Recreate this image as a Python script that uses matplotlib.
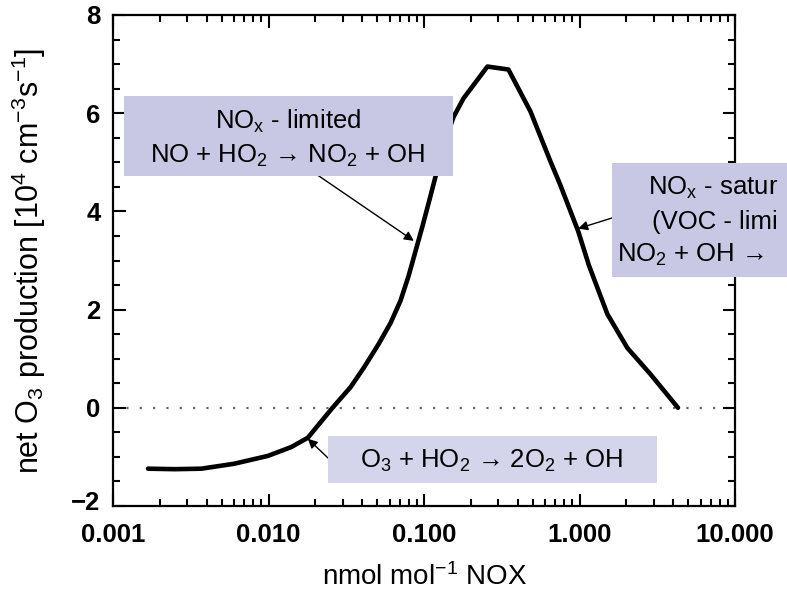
import matplotlib
matplotlib.use("Agg")
import matplotlib.pyplot as plt
from matplotlib.patches import Rectangle
from matplotlib.ticker import FixedLocator, LogLocator, MultipleLocator, NullFormatter
from matplotlib.transforms import ScaledTranslation
import numpy as np

plt.rcParams['font.family'] = ['Liberation Sans', 'DejaVu Sans']
plt.rcParams['mathtext.fontset'] = 'custom'
plt.rcParams['mathtext.rm'] = 'Liberation Sans'
plt.rcParams['mathtext.it'] = 'Liberation Sans'

# data
nox = [0.00168, 0.0025, 0.0037, 0.006, 0.0099, 0.014, 0.0179, 0.0258, 0.0337, 0.0409,
       0.0511, 0.061, 0.0706, 0.0795, 0.0882, 0.0978, 0.110, 0.122, 0.1374, 0.1547,
       0.1793, 0.2557, 0.349, 0.483, 0.65, 0.75, 0.98, 1.15, 1.51, 2.03, 2.85, 4.3]
prod = [-1.24, -1.25, -1.24, -1.14, -0.98, -0.80, -0.61, 0.0, 0.42, 0.81,
        1.30, 1.73, 2.18, 2.68, 3.19, 3.70, 4.31, 4.86, 5.45, 5.92,
        6.30, 6.95, 6.89, 6.04, 5.02, 4.55, 3.6, 2.90, 1.91, 1.22, 0.69, 0.0]

xticks = [0.001, 0.01, 0.1, 1.0, 10.0]
xticklabels = ["0.001", "0.010", "0.100", "1.000", "10.000"]
yticks = [-2, 0, 2, 4, 6, 8]

W, H = 787, 593
fig = plt.figure(figsize=(W / 100, H / 100), dpi=100)
ax = fig.add_axes([113 / W, 1 - 506 / H, (735 - 113) / W, (506 - 15) / H])

ax.plot(nox, prod, color='black', lw=3.3, solid_capstyle='round', solid_joinstyle='round', zorder=3)
ax.axhline(0, color='#666666', lw=1.6, ls=(0, (1, 5)), zorder=1)

ax.set_xscale('log')
ax.set_xlim(0.001, 10)
ax.set_ylim(-2, 8)
ax.xaxis.set_major_locator(FixedLocator(xticks))
ax.set_xticklabels(xticklabels)
ax.xaxis.set_minor_locator(LogLocator(base=10, subs=np.arange(2, 10)))
ax.xaxis.set_minor_formatter(NullFormatter())
ax.set_yticks(yticks)
ax.yaxis.set_minor_locator(MultipleLocator(0.5))

ax.tick_params(which='both', direction='in', top=True, right=True, width=1.5, color='black')
ax.tick_params(which='major', length=9, labelsize=18.5)
ax.tick_params(axis='x', which='major', pad=12)
ax.tick_params(axis='y', which='major', pad=9)
ax.tick_params(which='minor', length=5)
for lab in ax.get_xticklabels() + ax.get_yticklabels():
    lab.set_fontweight('bold')
lab0 = ax.get_yticklabels()[0]
lab0.set_transform(lab0.get_transform() + ScaledTranslation(0, 6 / 100, fig.dpi_scale_trans))
for s in ax.spines.values():
    s.set_linewidth(1.6)

ax.set_xlabel(r"nmol mol$^{-1}$ NOX", fontsize=20, labelpad=12)
ax.set_ylabel(r"net O$_3$ production [10$^4$ cm$^{-3}$s$^{-1}$]", fontsize=22, labelpad=17)


def fpx(x, y):
    return x / W, 1 - y / H


def box(x0, y0, x1, y1, color):
    fig.patches.append(Rectangle(fpx(x0, y1), (x1 - x0) / W, (y1 - y0) / H,
                                 transform=fig.transFigure, facecolor=color,
                                 edgecolor='none', zorder=4))


box(124, 96, 453, 176, '#c8c8e5')
box(612, 163, 800, 277, '#c8c8e5')
box(328, 436, 657, 483, '#d4d4eb')

fs = 18.5
fig.text(*fpx(288, 121), r"NO$_\mathregular{x}$ - limited", ha='center', va='center', fontsize=fs, zorder=5)
fig.text(*fpx(288, 156), r"NO + HO$_2$ → NO$_2$ + OH", ha='center', va='center', fontsize=fs, zorder=5)
fig.text(*fpx(492, 461), r"O$_3$ + HO$_2$ → 2O$_2$ + OH", ha='center', va='center', fontsize=fs, zorder=5)
fig.text(*fpx(648, 188), r"NO$_\mathregular{x}$ - satur", ha='left', va='center', fontsize=fs, zorder=5)
fig.text(*fpx(652, 222), r"(VOC - limi", ha='left', va='center', fontsize=fs, zorder=5)
fig.text(*fpx(617, 255), r"NO$_2$ + OH →", ha='left', va='center', fontsize=fs, zorder=5)

arrow = dict(arrowstyle='-|>', color='black', lw=1.0, mutation_scale=14, shrinkA=0, shrinkB=0)
ax.annotate("", xy=(0.086, 3.4), xytext=(316, H - 174), textcoords='figure pixels',
            arrowprops=arrow, zorder=6)
ax.annotate("", xy=(0.98, 3.65), xytext=(612, H - 218), textcoords='figure pixels',
            arrowprops=arrow, zorder=6)
ax.annotate("", xy=(0.0179, -0.63), xytext=(328, H - 458), textcoords='figure pixels',
            arrowprops=arrow, zorder=6)

fig.savefig("out.png", dpi=100)
